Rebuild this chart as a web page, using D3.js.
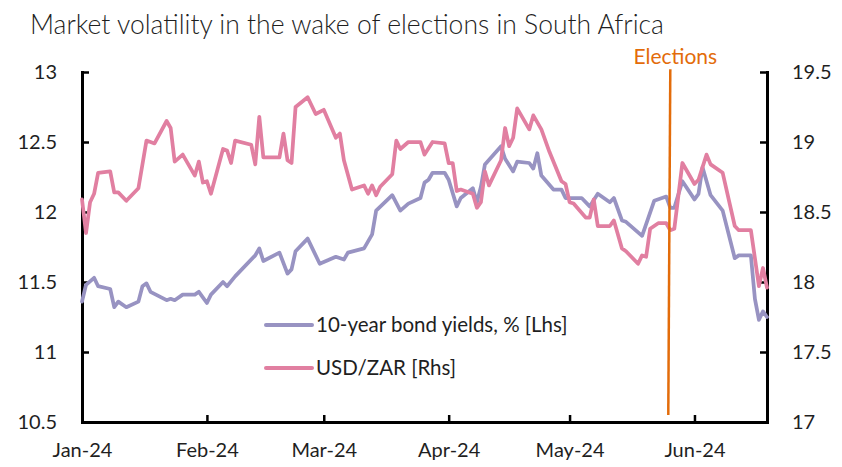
<!DOCTYPE html>
<html>
<head>
<meta charset="utf-8">
<script src="https://cdn.jsdelivr.net/npm/d3@7"></script>
<style>
  html, body { margin: 0; padding: 0; background: #fff; }
  svg { display: block; font-family: Lato, "Open Sans", sans-serif; }
</style>
</head>
<body>
<svg id="chart" width="842" height="467"></svg>
<script>
// ---------------- DATA ----------------
const title = "Market volatility in the wake of elections in South Africa";
const seriesNames = ["10-year bond yields, % [Lhs]", "USD/ZAR [Rhs]"];

const bondDates = ["2024-01-01","2024-01-02","2024-01-04","2024-01-05","2024-01-08","2024-01-09","2024-01-10","2024-01-12",
  "2024-01-15","2024-01-16","2024-01-17","2024-01-18","2024-01-22","2024-01-23","2024-01-24","2024-01-26","2024-01-29",
  "2024-01-30","2024-02-01","2024-02-02","2024-02-05","2024-02-06","2024-02-08","2024-02-13","2024-02-14","2024-02-15",
  "2024-02-19","2024-02-21","2024-02-22","2024-02-23","2024-02-26","2024-02-29","2024-03-04","2024-03-06","2024-03-07",
  "2024-03-11","2024-03-13","2024-03-14","2024-03-18","2024-03-20","2024-03-22","2024-03-25","2024-03-26","2024-03-27",
  "2024-03-28","2024-03-31","2024-04-01","2024-04-03","2024-04-04","2024-04-07","2024-04-08","2024-04-09","2024-04-10",
  "2024-04-14","2024-04-15","2024-04-17","2024-04-18","2024-04-21","2024-04-22","2024-04-23","2024-04-24","2024-04-27",
  "2024-04-29","2024-04-30","2024-05-04","2024-05-06","2024-05-08","2024-05-11","2024-05-12","2024-05-14","2024-05-15",
  "2024-05-19","2024-05-22","2024-05-25","2024-05-26","2024-05-27","2024-05-29","2024-06-01","2024-06-02","2024-06-03",
  "2024-06-05","2024-06-08","2024-06-11","2024-06-12","2024-06-15","2024-06-16","2024-06-17","2024-06-18","2024-06-19"];
const bondValues = [11.36,11.48,11.53,11.47,11.45,11.32,11.36,11.32,
  11.36,11.47,11.49,11.43,11.37,11.38,11.37,11.41,11.41,
  11.43,11.35,11.41,11.50,11.47,11.54,11.69,11.74,11.65,
  11.71,11.56,11.59,11.72,11.81,11.63,11.68,11.66,11.71,
  11.74,11.84,12.01,12.12,12.01,12.06,12.10,12.21,12.23,
  12.28,12.28,12.23,12.04,12.10,12.17,12.07,12.18,12.34,
  12.47,12.38,12.29,12.36,12.35,12.31,12.42,12.26,12.16,
  12.16,12.10,12.10,12.04,12.13,12.07,12.10,11.94,11.93,
  11.83,12.08,12.11,12.03,12.03,12.22,12.09,12.13,12.32,
  12.12,12.01,11.67,11.69,11.69,11.38,11.23,11.29,11.25];

const zarDates = ["2024-01-01","2024-01-02","2024-01-03","2024-01-04","2024-01-05","2024-01-08","2024-01-09","2024-01-10",
  "2024-01-12","2024-01-15","2024-01-17","2024-01-19","2024-01-22","2024-01-23","2024-01-24","2024-01-26","2024-01-29",
  "2024-01-30","2024-01-31","2024-02-01","2024-02-02","2024-02-05","2024-02-06","2024-02-07","2024-02-08","2024-02-12",
  "2024-02-13","2024-02-14","2024-02-15","2024-02-19","2024-02-20","2024-02-21","2024-02-22","2024-02-23","2024-02-26",
  "2024-02-28","2024-03-01","2024-03-04","2024-03-05","2024-03-06","2024-03-08","2024-03-11","2024-03-12","2024-03-13",
  "2024-03-14","2024-03-15","2024-03-18","2024-03-19","2024-03-20","2024-03-22","2024-03-25","2024-03-26","2024-03-28",
  "2024-03-31","2024-04-01","2024-04-02","2024-04-03","2024-04-04","2024-04-07","2024-04-08","2024-04-09","2024-04-10",
  "2024-04-11","2024-04-14","2024-04-15","2024-04-16","2024-04-17","2024-04-18","2024-04-21","2024-04-22","2024-04-24",
  "2024-04-26","2024-04-29","2024-04-30","2024-05-01","2024-05-02","2024-05-05","2024-05-06","2024-05-07","2024-05-08",
  "2024-05-11","2024-05-12","2024-05-14","2024-05-15","2024-05-18","2024-05-19","2024-05-20","2024-05-21","2024-05-23",
  "2024-05-25","2024-05-26","2024-05-27","2024-05-29","2024-06-01","2024-06-02","2024-06-04","2024-06-05","2024-06-08",
  "2024-06-11","2024-06-12","2024-06-15","2024-06-17","2024-06-18","2024-06-19"];
const zarValues = [18.59,18.35,18.57,18.63,18.78,18.79,18.64,18.64,
  18.58,18.67,19.01,18.99,19.15,19.10,18.86,18.91,18.76,
  18.86,18.71,18.72,18.63,18.95,18.94,18.85,19.01,18.98,
  18.84,19.18,18.89,18.89,19.06,18.87,18.85,19.25,19.32,
  19.20,19.23,19.03,19.06,18.87,18.66,18.69,18.63,18.69,
  18.62,18.68,18.77,19.01,18.95,19.00,19.00,18.91,19.00,
  18.99,18.85,18.85,18.65,18.66,18.63,18.53,18.57,18.79,
  18.69,18.87,19.10,18.97,19.03,19.24,19.09,19.19,19.09,
  18.93,18.72,18.70,18.57,18.56,18.46,18.46,18.59,18.40,
  18.40,18.44,18.24,18.22,18.13,18.19,18.18,18.38,18.42,
  18.42,18.37,18.38,18.85,18.70,18.73,18.91,18.84,18.78,
  18.40,18.37,18.37,17.97,18.10,17.96];

const xDomain = ["2024-01-01", "2024-06-19"];
const monthTicks = ["2024-01-01","2024-02-01","2024-03-01","2024-04-01","2024-05-01","2024-06-01"];
const leftTicks = [10.5, 11, 11.5, 12, 12.5, 13];
const rightTicks = [17, 17.5, 18, 18.5, 19, 19.5];
const electionLabel = "Elections";
const electionDates = ["2024-05-26T00:00", "2024-05-25T12:00"]; // top, bottom of the marker
const electionSpan = [13.02, 10.55]; // in left-axis units

// ---------------- LAYOUT ----------------
const W = 842, H = 467;
const m = { left: 82, right: 75, top: 72, bottom: 45 };
const colors = { bond: "#9893c2", zar: "#e17fa1", election: "#e36c0a", text: "#1f1f1f" };

const parse = d3.timeParse("%Y-%m-%d");
const parseT = d3.timeParse("%Y-%m-%dT%H:%M");
const svg = d3.select("#chart");

const x = d3.scaleTime().domain(xDomain.map(parse)).range([m.left, W - m.right]);
const yL = d3.scaleLinear().domain([10.5, 13]).range([H - m.bottom, m.top]);
const yR = d3.scaleLinear().domain([17, 19.5]).range([H - m.bottom, m.top]);

// title
svg.append("text").attr("x", 30).attr("y", 34)
  .attr("font-size", 26.5).attr("font-weight", 300).attr("fill", colors.text).text(title);

// axes
const fmt = d3.timeFormat("%b-%y");
const axL = svg.append("g").attr("transform", `translate(${m.left},0)`)
  .call(d3.axisLeft(yL).tickValues(leftTicks).tickFormat(d => String(d)).tickSizeInner(-7).tickSizeOuter(0).tickPadding(25));
const axR = svg.append("g").attr("transform", `translate(${W - m.right},0)`)
  .call(d3.axisRight(yR).tickValues(rightTicks).tickFormat(d => String(d)).tickSizeInner(-7).tickSizeOuter(0).tickPadding(25));
const axB = svg.append("g").attr("transform", `translate(0,${H - m.bottom})`)
  .call(d3.axisBottom(x).tickValues(monthTicks.map(parse)).tickFormat(fmt).tickSizeInner(-7).tickSizeOuter(0).tickPadding(21));

[axL, axR, axB].forEach(g => {
  g.selectAll(".domain").attr("stroke", "#000").attr("stroke-width", 3).attr("stroke-linecap", "square");
  g.selectAll(".tick line").attr("stroke", "#000").attr("stroke-width", 2.5);
  g.selectAll(".tick text").attr("font-size", 20).attr("fill", colors.text).attr("font-family", "Lato, sans-serif");
});

// series
const bondData = bondDates.map((d, i) => ({ date: parse(d), v: bondValues[i] }));
const zarData = zarDates.map((d, i) => ({ date: parse(d), v: zarValues[i] }));

svg.append("path").datum(bondData)
  .attr("fill", "none").attr("stroke", colors.bond).attr("stroke-width", 3.75)
  .attr("stroke-linejoin", "round").attr("stroke-linecap", "round")
  .attr("d", d3.line().x(d => x(d.date)).y(d => yL(d.v)));

svg.append("path").datum(zarData)
  .attr("fill", "none").attr("stroke", colors.zar).attr("stroke-width", 3.75)
  .attr("stroke-linejoin", "round").attr("stroke-linecap", "round")
  .attr("d", d3.line().x(d => x(d.date)).y(d => yR(d.v)));

// election marker
const exTop = x(parseT(electionDates[0]));
const exBot = x(parseT(electionDates[1]));
svg.append("line").attr("x1", exTop).attr("x2", exBot)
  .attr("y1", yL(electionSpan[0])).attr("y2", yL(electionSpan[1]))
  .attr("stroke", colors.election).attr("stroke-width", 2.5);
svg.append("text").attr("x", exTop + 5).attr("y", 64).attr("text-anchor", "middle")
  .attr("font-size", 21).attr("fill", colors.election).text(electionLabel);

// legend
const legend = svg.append("g");
const legItems = [
  { name: seriesNames[0], color: colors.bond, y: 325 },
  { name: seriesNames[1], color: colors.zar, y: 368 }
];
legItems.forEach(it => {
  legend.append("line").attr("x1", 266).attr("x2", 312).attr("y1", it.y).attr("y2", it.y)
    .attr("stroke", it.color).attr("stroke-width", 4).attr("stroke-linecap", "round");
  legend.append("text").attr("x", 316).attr("y", it.y).attr("dy", "0.35em")
    .attr("font-size", 20.5).attr("fill", colors.text).text(it.name);
});
</script>
</body>
</html>
